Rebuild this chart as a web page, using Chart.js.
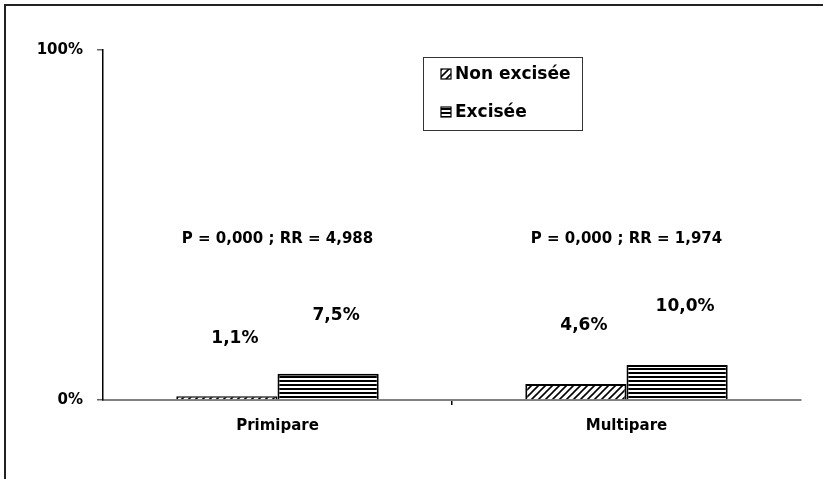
<!DOCTYPE html>
<html>
<head>
<meta charset="utf-8">
<script src="https://cdn.jsdelivr.net/npm/chart.js@4.4.0/dist/chart.umd.min.js"></script>
<style>
  html, body { margin: 0; padding: 0; background: #fff; }
  #wrap { position: relative; width: 823px; height: 479px; }
</style>
</head>
<body>
<div id="wrap"><canvas id="chart" width="823" height="479"></canvas></div>
<script>
// données du graphique
const categories = ['Primipare', 'Multipare'];
const nonExcisee = [1.1, 4.6];
const excisee = [7.5, 10.0];
const seriesNames = ['Non excisée', 'Excisée'];
const pTexts = ['P = 0,000 ; RR = 4,988', 'P = 0,000 ; RR = 1,974'];
const yTicks = [0, 100];

const comic = '"Comic Sans MS", "DejaVu Sans", sans-serif';

// motifs de remplissage (hachures)
function hatchDiag() {
    const c = document.createElement('canvas');
    c.width = 7; c.height = 7;
    const g = c.getContext('2d');
    g.fillStyle = '#fff';
    g.fillRect(0, 0, 7, 7);
    g.strokeStyle = '#000';
    g.lineWidth = 1.6;
    g.beginPath();
    g.moveTo(-1, 8); g.lineTo(8, -1);
    g.moveTo(-1, 1); g.lineTo(1, -1);
    g.moveTo(6, 8); g.lineTo(8, 6);
    g.stroke();
    return g.createPattern(c, 'repeat');
}
function hatchHoriz() {
    const c = document.createElement('canvas');
    c.width = 4; c.height = 4;
    const g = c.getContext('2d');
    g.fillStyle = '#fff';
    g.fillRect(0, 0, 4, 4);
    g.fillStyle = '#000';
    g.fillRect(0, 0, 4, 2);
    return g.createPattern(c, 'repeat');
}
const patterns = [hatchDiag(), hatchHoriz()];

const fmt = v => v.toFixed(1).replace('.', ',') + '%';

// étiquettes, textes P/RR, légende et cadre
const annotations = {
    id: 'annotations',
    afterDraw(chart) {
        const ctx = chart.ctx;
        const y = chart.scales.y;
        const x = chart.scales.x;
        ctx.save();
        ctx.fillStyle = '#000';
        ctx.textAlign = 'center';
        ctx.textBaseline = 'middle';

        // valeurs au-dessus des barres
        ctx.font = 'bold 17px ' + comic;
        chart.data.datasets.forEach((ds, di) => {
            chart.getDatasetMeta(di).data.forEach((bar, i) => {
                ctx.fillText(fmt(ds.data[i]), bar.x + 8, bar.y - 58);
            });
        });

        // P et RR
        ctx.font = 'bold 15px "DejaVu Sans", sans-serif';
        pTexts.forEach((t, i) => {
            ctx.fillText(t, x.getPixelForValue(i), y.getPixelForValue(46));
        });

        // légende
        const lx = 423, ly = 57, lw = 159, lh = 73;
        ctx.strokeStyle = '#333';
        ctx.lineWidth = 1;
        ctx.strokeRect(lx + 0.5, ly + 0.5, lw, lh);
        ctx.textAlign = 'left';
        ctx.font = 'bold 17px ' + comic;
        seriesNames.forEach((n, i) => {
            const cy = ly + 17 + i * 38;
            ctx.fillStyle = patterns[i];
            ctx.fillRect(441, cy - 5, 10, 10);
            ctx.strokeStyle = '#000';
            ctx.lineWidth = 1.2;
            ctx.strokeRect(441, cy - 5, 10, 10);
            ctx.fillStyle = '#000';
            ctx.fillText(n, 455, cy + 1);
        });

        // cadre (gauche et haut)
        ctx.strokeStyle = '#222';
        ctx.lineWidth = 2;
        ctx.beginPath();
        ctx.moveTo(5, 479);
        ctx.lineTo(5, 5);
        ctx.lineTo(823, 5);
        ctx.stroke();
        ctx.restore();
    }
};

new Chart(document.getElementById('chart'), {
    type: 'bar',
    data: {
        labels: categories,
        datasets: [
            { label: seriesNames[0], data: nonExcisee, backgroundColor: patterns[0], borderColor: '#000', borderWidth: 2 },
            { label: seriesNames[1], data: excisee, backgroundColor: patterns[1], borderColor: '#000', borderWidth: 2 }
        ]
    },
    options: {
        responsive: false,
        animation: false,
        layout: { padding: { left: 0, top: 50, right: 22, bottom: 0 } },
        plugins: {
            legend: { display: false },
            tooltip: { enabled: false }
        },
        datasets: {
            bar: { categoryPercentage: 0.58, barPercentage: 1.0 }
        },
        scales: {
            x: {
                afterFit: s => { s.height = 79; },
                grid: {
                    drawOnChartArea: false,
                    drawTicks: true,
                    tickLength: 5,
                    color: c => c.index === 1 ? '#000' : 'rgba(0,0,0,0)',
                    lineWidth: 1.5
                },
                border: { display: true, color: '#808080', width: 2 },
                ticks: {
                    color: '#000',
                    font: { family: comic, size: 15, weight: 'bold' },
                    padding: 12
                }
            },
            y: {
                min: 0,
                max: 100,
                afterFit: s => { s.width = 103; },
                afterBuildTicks: s => { s.ticks = yTicks.map(v => ({ value: v })); },
                grid: {
                    drawOnChartArea: false,
                    drawTicks: true,
                    tickLength: 6,
                    color: '#666',
                    lineWidth: 1.5
                },
                border: { display: true, color: '#000', width: 1.5 },
                ticks: {
                    color: '#000',
                    font: { family: comic, size: 15, weight: 'bold' },
                    padding: 14,
                    callback: v => v + '%'
                }
            }
        }
    },
    plugins: [annotations]
});
</script>
</body>
</html>
